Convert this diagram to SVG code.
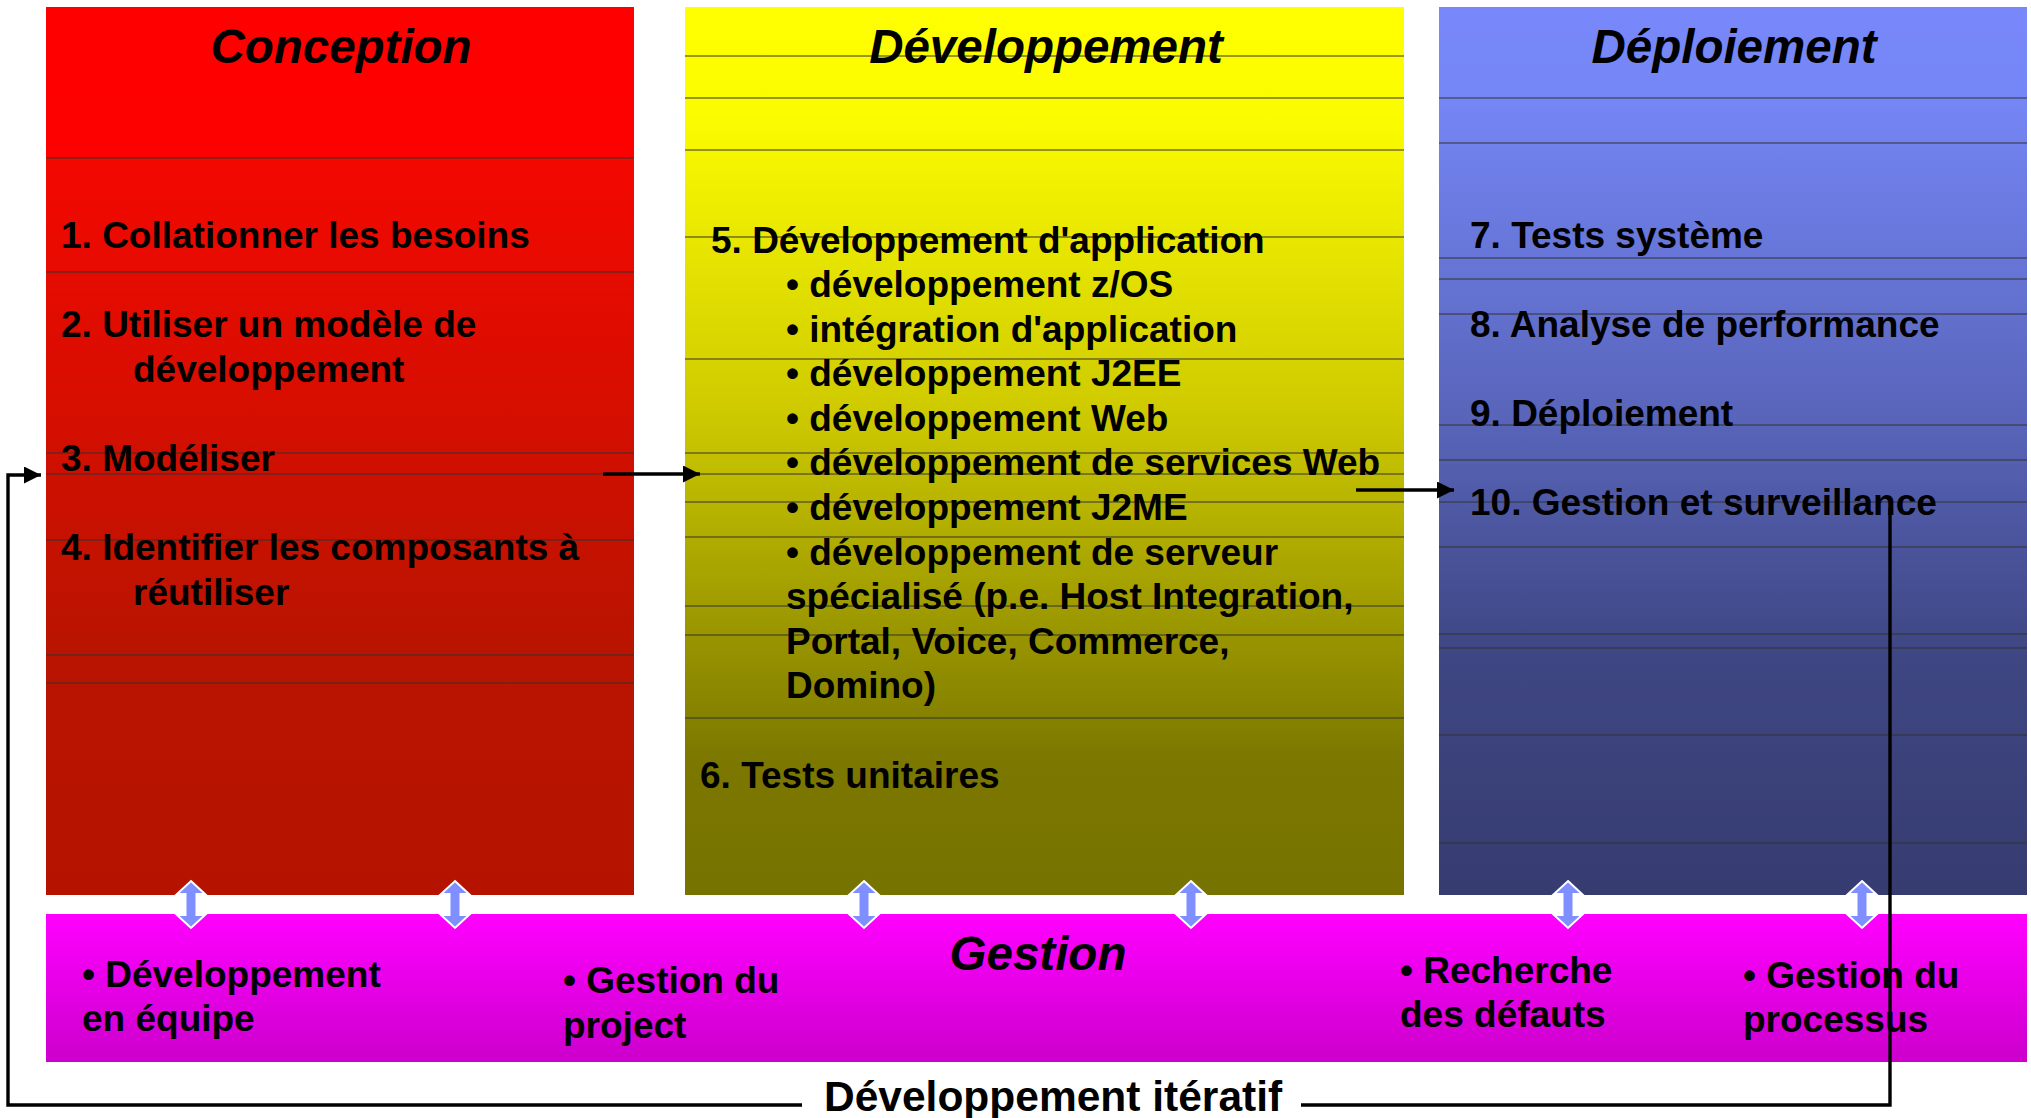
<svg xmlns="http://www.w3.org/2000/svg" width="2031" height="1118" viewBox="0 0 2031 1118">
  <defs>
    <linearGradient id="gRed" x1="0" y1="0" x2="0" y2="1">
      <stop offset="0" stop-color="#FF0000"/>
      <stop offset="0.17" stop-color="#FD0000"/>
      <stop offset="0.17" stop-color="#F40800"/>
      <stop offset="0.72" stop-color="#B91400"/>
      <stop offset="1" stop-color="#B51300"/>
    </linearGradient>
    <linearGradient id="gYel" x1="0" y1="0" x2="0" y2="1">
      <stop offset="0" stop-color="#FFFF00"/>
      <stop offset="0.12" stop-color="#FCFC00"/>
      <stop offset="0.45" stop-color="#CFCB00"/>
      <stop offset="0.85" stop-color="#7B7700"/>
      <stop offset="1" stop-color="#777300"/>
    </linearGradient>
    <linearGradient id="gBlue" x1="0" y1="0" x2="0" y2="1">
      <stop offset="0" stop-color="#7888FA"/>
      <stop offset="0.1" stop-color="#7586F6"/>
      <stop offset="0.47" stop-color="#5864B8"/>
      <stop offset="0.72" stop-color="#3F4784"/>
      <stop offset="1" stop-color="#363C70"/>
    </linearGradient>
    <linearGradient id="gMag" x1="0" y1="0" x2="0" y2="1">
      <stop offset="0" stop-color="#FF00FF"/>
      <stop offset="1" stop-color="#CC00CC"/>
    </linearGradient>
    <marker id="arr" markerWidth="17" markerHeight="17" refX="17" refY="8.5" orient="auto" markerUnits="userSpaceOnUse">
      <path d="M0,0 L17,8.5 L0,17 Z" fill="#000"/>
    </marker>
    <path id="dbl" d="M0,-24 L14,-11 L5.5,-11 L5.5,10 L14,10 L0,23 L-14,10 L-5.5,10 L-5.5,-11 L-14,-11 Z"/>
  </defs>
  <style>
    .t { font-family: "Liberation Sans", Arial, sans-serif; font-weight: bold; font-size: 37px; fill: #000; }
    .h { font-family: "Liberation Sans", Arial, sans-serif; font-weight: bold; font-style: italic; font-size: 47.5px; fill: #000; text-anchor: middle; }
    .g { stroke: #333; stroke-width: 1.2; }
    .c { fill: none; stroke: #000; stroke-width: 3.4; }
    .d { fill: #7F8FFF; stroke: #FFF; stroke-width: 2; }
  </style>
  <rect width="2031" height="1118" fill="#FFF"/>

  <g id="conception">
    <rect x="46" y="7" width="588" height="888" fill="url(#gRed)"/>
    <g class="g">
      <line x1="46" y1="158" x2="634" y2="158"/>
      <line x1="46" y1="272" x2="634" y2="272"/>
      <line x1="46" y1="453" x2="634" y2="453"/>
      <line x1="46" y1="474" x2="634" y2="474"/>
      <line x1="46" y1="540" x2="634" y2="540"/>
      <line x1="46" y1="655" x2="634" y2="655"/>
      <line x1="46" y1="683" x2="634" y2="683"/>
    </g>
    <text class="h" x="341" y="63">Conception</text>
    <text class="t" x="61" y="248">1. Collationner les besoins</text>
    <text class="t" x="61" y="337">2. Utiliser un modèle de</text>
    <text class="t" x="133" y="382">développement</text>
    <text class="t" x="61" y="471">3. Modéliser</text>
    <text class="t" x="61" y="560">4. Identifier les composants à</text>
    <text class="t" x="133" y="605">réutiliser</text>
  </g>

  <g id="developpement">
    <rect x="685" y="7" width="719" height="888" fill="url(#gYel)"/>
    <g class="g">
      <line x1="685" y1="56" x2="1404" y2="56"/>
      <line x1="685" y1="98" x2="1404" y2="98"/>
      <line x1="685" y1="150" x2="1404" y2="150"/>
      <line x1="685" y1="237" x2="1404" y2="237"/>
      <line x1="685" y1="359" x2="1404" y2="359"/>
      <line x1="685" y1="453" x2="1404" y2="453"/>
      <line x1="685" y1="474" x2="1404" y2="474"/>
      <line x1="685" y1="502" x2="1404" y2="502"/>
      <line x1="685" y1="537" x2="1404" y2="537"/>
      <line x1="685" y1="606" x2="1404" y2="606"/>
      <line x1="685" y1="635" x2="1404" y2="635"/>
      <line x1="685" y1="718" x2="1404" y2="718"/>
    </g>
    <text class="h" x="1046" y="63">Développement</text>
    <text class="t" x="711" y="253">5. Développement d'application</text>
    <text class="t" x="786" y="297">• développement z/OS</text>
    <text class="t" x="786" y="342">• intégration d'application</text>
    <text class="t" x="786" y="386">• développement J2EE</text>
    <text class="t" x="786" y="431">• développement Web</text>
    <text class="t" x="786" y="475">• développement de services Web</text>
    <text class="t" x="786" y="520">• développement J2ME</text>
    <text class="t" x="786" y="565">• développement de serveur</text>
    <text class="t" x="786" y="609">spécialisé (p.e. Host Integration,</text>
    <text class="t" x="786" y="654">Portal, Voice, Commerce,</text>
    <text class="t" x="786" y="698">Domino)</text>
    <text class="t" x="700" y="788">6. Tests unitaires</text>
  </g>

  <g id="deploiement">
    <rect x="1439" y="7" width="588" height="888" fill="url(#gBlue)"/>
    <g class="g">
      <line x1="1439" y1="98" x2="2027" y2="98"/>
      <line x1="1439" y1="143" x2="2027" y2="143"/>
      <line x1="1439" y1="258" x2="2027" y2="258"/>
      <line x1="1439" y1="279" x2="2027" y2="279"/>
      <line x1="1439" y1="314" x2="2027" y2="314"/>
      <line x1="1439" y1="425" x2="2027" y2="425"/>
      <line x1="1439" y1="460" x2="2027" y2="460"/>
      <line x1="1439" y1="502" x2="2027" y2="502"/>
      <line x1="1439" y1="547" x2="2027" y2="547"/>
      <line x1="1439" y1="634" x2="2027" y2="634"/>
      <line x1="1439" y1="648" x2="2027" y2="648"/>
      <line x1="1439" y1="735" x2="2027" y2="735"/>
      <line x1="1439" y1="843" x2="2027" y2="843"/>
    </g>
    <text class="h" x="1734" y="63">Déploiement</text>
    <text class="t" x="1470" y="248">7. Tests système</text>
    <text class="t" x="1470" y="337">8. Analyse de performance</text>
    <text class="t" x="1470" y="426">9. Déploiement</text>
    <text class="t" x="1470" y="515">10. Gestion et surveillance</text>
  </g>

  <g id="gestion">
    <rect x="46" y="914" width="1981" height="148" fill="url(#gMag)"/>
    <text class="h" x="1038" y="970">Gestion</text>
    <text class="t" x="82" y="987">• Développement</text>
    <text class="t" x="82" y="1031">en équipe</text>
    <text class="t" x="563" y="993">• Gestion du</text>
    <text class="t" x="563" y="1038">project</text>
    <text class="t" x="1400" y="983">• Recherche</text>
    <text class="t" x="1400" y="1027">des défauts</text>
    <text class="t" x="1743" y="988">• Gestion du</text>
    <text class="t" x="1743" y="1032">processus</text>
  </g>

  <g id="connectors">
    <path class="c" d="M603,474 L700,474" marker-end="url(#arr)"/>
    <path class="c" d="M1356,490 L1454,490" marker-end="url(#arr)"/>
    <path class="c" d="M802,1105 L8,1105 L8,475 L41,475" marker-end="url(#arr)"/>
    <path class="c" d="M1301,1105 L1890,1105 L1890,508"/>
    <g class="d">
      <use href="#dbl" x="191" y="905"/>
      <use href="#dbl" x="455" y="905"/>
      <use href="#dbl" x="864" y="905"/>
      <use href="#dbl" x="1191" y="905"/>
      <use href="#dbl" x="1568" y="905"/>
      <use href="#dbl" x="1862" y="905"/>
    </g>
  </g>
  <text id="iteratif" x="824" y="1111" font-family="'Liberation Sans', Arial, sans-serif" font-weight="bold" font-size="42.5" fill="#000">Développement itératif</text>
</svg>
